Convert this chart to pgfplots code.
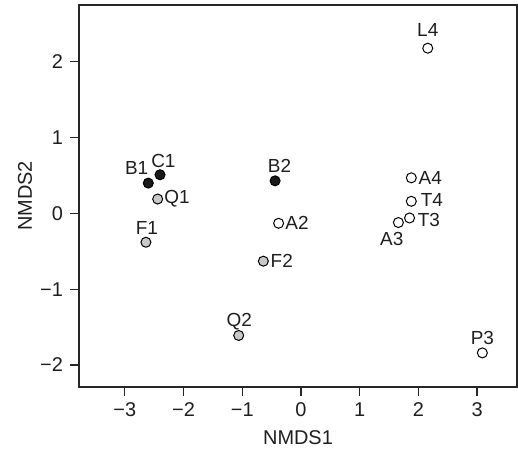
\documentclass[border=0pt]{standalone}
\usepackage{pgfplots}
\pgfplotsset{compat=1.18}
\usepackage{fontspec}
\setmainfont{Liberation Sans}
\usetikzlibrary{calc}
\definecolor{ptgray}{RGB}{200,200,200}
\definecolor{txt}{RGB}{30,30,30}

% x, y, label offset (bp)
\pgfplotstableread{
x y lab dx dy
-2.60 0.40 B1 -5.8 7.5
-2.40 0.51 C1 1.7 6.7
-0.44 0.43 B2 2.2 7.5
}\blackpts
\pgfplotstableread{
x y lab dx dy
-2.44 0.19 Q1 9.7 0
-2.64 -0.38 F1 0.5 7
-0.64 -0.63 F2 9.2 0
-1.06 -1.61 Q2 0.3 7
}\graypts
\pgfplotstableread{
x y lab dx dy
-0.38 -0.13 A2 9.2 0.3
1.88 0.47 A4 9.5 0
1.88 0.16 T4 10.3 0.5
1.85 -0.06 T3 9.7 -0.8
1.66 -0.12 A3 -3.3 -8
2.16 2.18 L4 0 9.2
3.09 -1.84 P3 0 7.5
}\whitepts

\begin{document}
\begin{tikzpicture}
\begin{axis}[
    name=ax,
    scale only axis,
    width=219bp, height=191bp,
    xmin=-3.78, xmax=3.68,
    ymin=-2.29, ymax=2.75,
    xtick={-3,-2,-1,0,1,2,3},
    xticklabels={−3,−2,−1,0,1,2,3},
    ytick={-2,-1,0,1,2},
    yticklabels={−2,−1,0,1,2},
    tick align=outside,
    major tick length=4.5bp,
    xtick pos=bottom, ytick pos=left,
    axis line style={line width=1bp, draw=black!85},
    every tick/.style={line width=0.6bp, black!85},
    tick label style={font=\fontsize{10}{12}\selectfont, text=txt},
    xlabel={NMDS1}, ylabel={NMDS2},
    label style={font=\fontsize{10}{12}\selectfont, text=txt},
    x label style={at={(axis description cs:0.5,-0.1335)}, anchor=center},
    y label style={at={(axis description cs:-0.1233,0.5)}, anchor=center, rotate=0},
    clip=false,
    every axis plot/.append style={
        only marks, mark=*, mark size=2.5bp,
        point meta=explicit symbolic,
        visualization depends on={\thisrow{dx}\as\dx},
        visualization depends on={\thisrow{dy}\as\dy},
        nodes near coords,
        nodes near coords style={anchor=center, xshift=\dx bp, yshift=\dy bp,
            font=\fontsize{9.5}{11}\selectfont, text=txt, inner sep=0pt},
    },
]
\addplot[mark options={draw=black, fill=black!90, line width=0.5bp}] table[x=x, y=y, meta=lab] {\blackpts};
\addplot[mark options={draw=black, fill=ptgray, line width=0.5bp}] table[x=x, y=y, meta=lab] {\graypts};
\addplot[mark options={draw=black, fill=white, line width=0.5bp}] table[x=x, y=y, meta=lab] {\whitepts};
\end{axis}
\pgfresetboundingbox
\useasboundingbox ($(ax.south west)+(-39.5bp,-31bp)$) rectangle ($(ax.north east)+(0.5bp,2.5bp)$);
\end{tikzpicture}
\end{document}
